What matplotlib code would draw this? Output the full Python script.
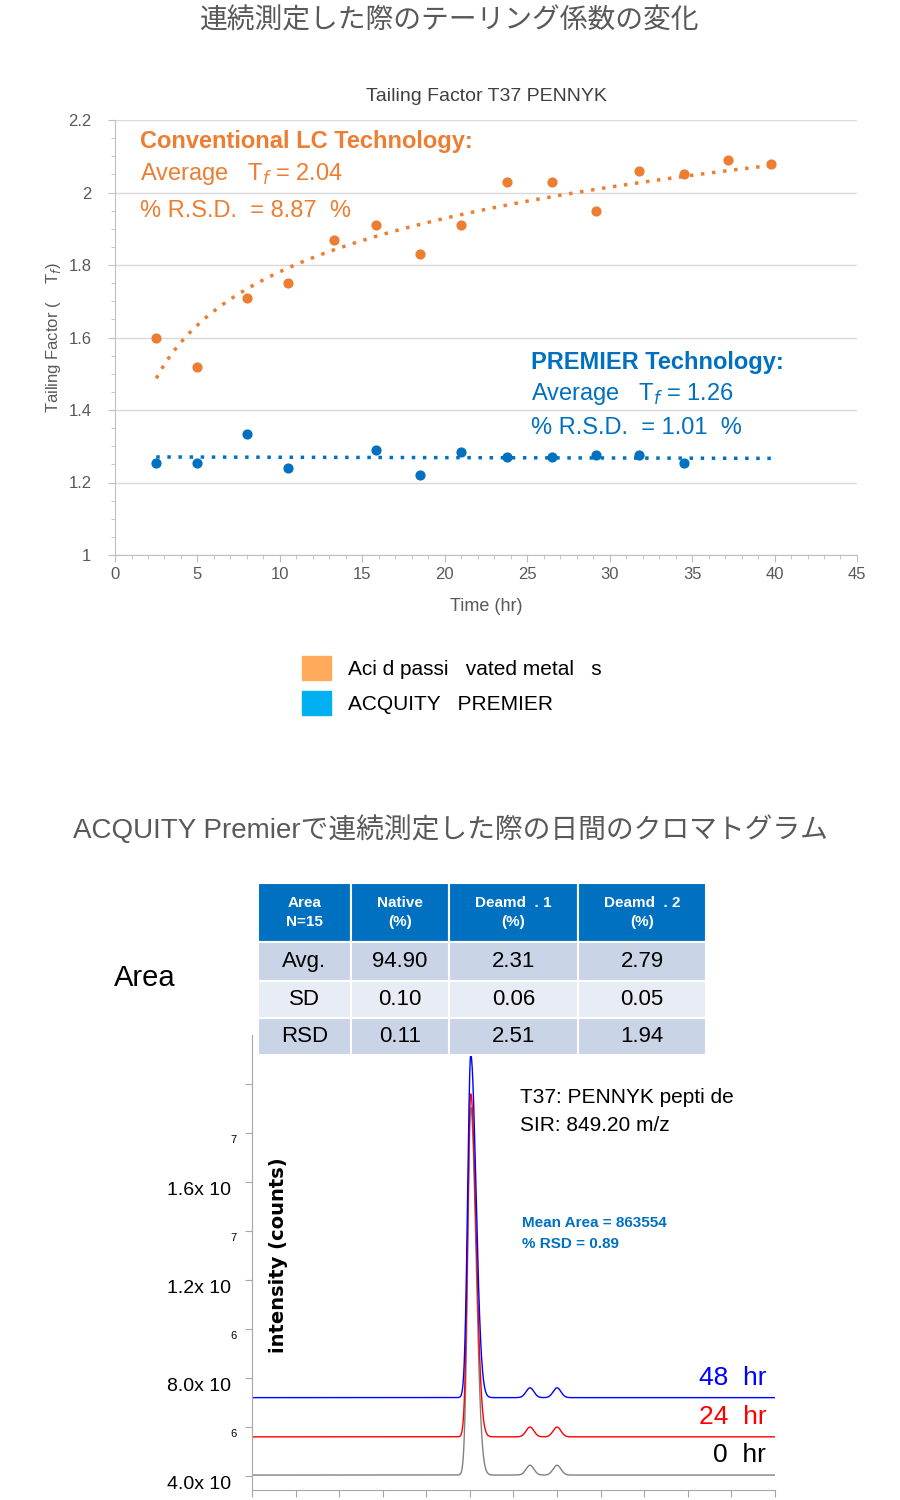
import numpy as np
import matplotlib.pyplot as plt
from matplotlib.patches import Rectangle

plt.rcParams["font.family"] = ["Liberation Sans", "Noto Sans CJK JP"]

# Tailing factor data
conv_time = [2.5, 5, 8, 10.5, 13.3, 15.8, 18.5, 21, 23.8, 26.5, 29.2, 31.8, 34.5, 37.2, 39.8]
conv_tf = [1.60, 1.52, 1.71, 1.75, 1.87, 1.91, 1.83, 1.91, 2.03, 2.03, 1.95, 2.06, 2.05, 2.09, 2.08]
prem_time = [2.5, 5, 8, 10.5, 15.8, 18.5, 21, 23.8, 26.5, 29.2, 31.8, 34.5]
prem_tf = [1.255, 1.255, 1.335, 1.24, 1.29, 1.22, 1.285, 1.27, 1.27, 1.275, 1.275, 1.255]

# Table
col_heads = ["Area\nN=15", "Native\n(%)", "Deamd  . 1\n(%)", "Deamd  . 2\n(%)"]
row_names = ["Avg.", "SD", "RSD"]
native = ["94.90", "0.10", "0.11"]
deamd1 = ["2.31", "0.06", "2.51"]
deamd2 = ["2.79", "0.05", "1.94"]

# Chromatogram: peak centre, height, width, baseline per run
runs = ["0 hr", "24 hr", "48 hr"]
run_colors = ["#808080", "#ff0000", "#0000ff"]
baselines = [4.04e6, 5.6e6, 7.2e6]
main_heights = [1.50e7, 1.40e7, 1.40e7]
peak_pos = [5.02, 6.38, 7.0]
minor_heights = [4.0e5, 4.0e5, 4.0e5]

fig = plt.figure(figsize=(9, 15), dpi=100)
gray = "#595959"
orange = "#ED7D31"
blue = "#0070C0"

fig.text(0.5, 0.986, "連続測定した際のテーリング係数の変化", ha="center", va="center", fontsize=20, color=gray)
fig.text(0.5, 0.447, "ACQUITY Premierで連続測定した際の日間のクロマトグラム", ha="center", va="center", fontsize=20, color=gray)

# ---- top chart
ax = fig.add_axes([0.1278, 0.63, 0.8244, 0.29])
ax.scatter(conv_time, conv_tf, color=orange, s=40, zorder=3)
ax.scatter(prem_time, prem_tf, color=blue, s=40, zorder=3)
# trend lines fitted from data
a, b = np.polyfit(np.log(conv_time), conv_tf, 1)
xx = np.linspace(2.5, 39.8, 200)
ax.plot(xx, a * np.log(xx) + b, color=orange, ls=(0, (1, 2.2)), lw=2.5)
c, d = np.polyfit(prem_time, prem_tf, 1)
ax.plot(xx, c * xx + d, color=blue, ls=(0, (1, 2.2)), lw=2.5)
ax.set_xlim(0, 45)
ax.set_ylim(1, 2.2)
ax.set_xticks(range(0, 46, 5))
ax.set_yticks([1, 1.2, 1.4, 1.6, 1.8, 2, 2.2])
ax.set_yticklabels(["1", "1.2", "1.4", "1.6", "1.8", "2", "2.2"])
ax.set_xticks(np.arange(0, 45.1, 1), minor=True)
ax.set_yticks(np.arange(1, 2.21, 0.05), minor=True)
ax.grid(axis="y", color="#d9d9d9", lw=1)
ax.set_axisbelow(True)
for s in ["top", "right"]:
    ax.spines[s].set_visible(False)
for s in ["left", "bottom"]:
    ax.spines[s].set_color("#bfbfbf")
ax.tick_params(colors=gray, labelsize=12, length=5, color="#bfbfbf")
ax.tick_params(axis="y", pad=12)
ax.tick_params(which="minor", length=3, color="#bfbfbf")
ax.set_xlabel("Time (hr)", color=gray, fontsize=13, labelpad=12)
ax.set_ylabel("Tailing Factor (    T$_f$)", color=gray, fontsize=12)
ax.set_title("Tailing Factor T37 PENNYK", color="#404040", fontsize=14, pad=14)
ax.text(1.5, 2.14, "Conventional LC Technology:", color=orange, fontsize=17, fontweight="bold", va="center")
ax.text(1.5, 2.05, "Average   T$_f$ = 2.04", color=orange, fontsize=17, va="center")
ax.text(1.5, 1.95, "% R.S.D.  = 8.87  %", color=orange, fontsize=17, va="center")
ax.text(25.2, 1.53, "PREMIER Technology:", color=blue, fontsize=17, fontweight="bold", va="center")
ax.text(25.2, 1.445, "Average   T$_f$ = 1.26", color=blue, fontsize=17, va="center")
ax.text(25.2, 1.35, "% R.S.D.  = 1.01  %", color=blue, fontsize=17, va="center")

fig.legend(handles=[Rectangle((0, 0), 1, 1, color="#FFAB5B"), Rectangle((0, 0), 1, 1, color="#00B0F0")],
           labels=["Aci d passi   vated metal   s", "ACQUITY   PREMIER"],
           loc="center left", bbox_to_anchor=(0.315, 0.543), frameon=False, fontsize=15,
           handlelength=1.4, handleheight=1.4, labelspacing=0.5)

# ---- table
xs = [258, 351, 449, 578, 706]
ys = [883, 942, 981, 1018, 1055]
W, H = 900, 1500
def cell(x0, x1, y0, y1, fc, txt, tc, fs, bold=False):
    fig.patches.append(Rectangle((x0 / W, 1 - y1 / H), (x1 - x0) / W, (y1 - y0) / H,
                                 transform=fig.transFigure, fc=fc, ec="white", lw=1.5))
    fig.text((x0 + x1) / 2 / W, 1 - (y0 + y1) / 2 / H, txt, ha="center", va="center",
             color=tc, fontsize=fs, fontweight="bold" if bold else "normal", linespacing=1.4)
for j in range(4):
    cell(xs[j], xs[j + 1], ys[0], ys[1], "#0070C0", col_heads[j], "white", 11, True)
for i in range(3):
    fc = "#C9D4E6" if i != 1 else "#E8ECF4"
    vals = [row_names[i], native[i], deamd1[i], deamd2[i]]
    for j in range(4):
        cell(xs[j], xs[j + 1], ys[i + 1], ys[i + 2], fc, vals[j], "black", 16)
fig.text(145 / W, 1 - 978 / H, "Area", ha="center", va="center", fontsize=21)

# ---- chromatogram
ax2 = fig.add_axes([0.28, 0.00667, 0.581, 0.3033])
t = np.linspace(0, 12, 3000)
for k in range(3):
    y = np.full_like(t, baselines[k])
    left = np.exp(-0.5 * ((t - peak_pos[0]) / 0.07) ** 2)
    right = np.exp(-0.5 * ((t - peak_pos[0]) / 0.12) ** 2)
    y += main_heights[k] * np.where(t < peak_pos[0], left, right)
    for p in (1, 2):
        y += minor_heights[k] * np.exp(-0.5 * ((t - peak_pos[p]) / 0.09) ** 2)
    ax2.plot(t, y, color=run_colors[k], lw=1)
ax2.set_xlim(0, 12)
ax2.set_ylim(3.43e6, 2.2e7)
ax2.set_xticks(np.arange(0, 12.1, 1))
ax2.set_xticklabels([])
ax2.set_yticks(np.arange(4e6, 2.2e7, 2e6))
ax2.set_yticklabels([])
for s in ["top", "right"]:
    ax2.spines[s].set_visible(False)
for s in ["left", "bottom"]:
    ax2.spines[s].set_color("#a6a6a6")
ax2.tick_params(color="#a6a6a6", length=5)
tr = ax2.get_yaxis_transform()
for v, lab in [(4e6, "4.0x 10"), (8e6, "8.0x 10"), (1.2e7, "1.2x 10"), (1.6e7, "1.6x 10")]:
    ax2.text(-0.04, v - 3.5e5, lab, transform=tr, ha="right", va="center", fontsize=14)
    ax2.text(-0.03, v + 1.7e6, "6" if v < 1e7 else "7", transform=tr, ha="right", va="center", fontsize=8)
ax2.text(0.6, 1.3e7, "intensity (counts)", rotation=90, ha="center", va="center",
         fontsize=14, fontweight="bold", family="DejaVu Sans")
ax2.text(6.15, 1.886e7, "T37: PENNYK pepti de\nSIR: 849.20 m/z", fontsize=15, va="center", linespacing=1.6)
ax2.text(6.2, 1.39e7, "Mean Area = 863554\n% RSD = 0.89", fontsize=11, va="center", color=blue,
         fontweight="bold", linespacing=1.6)
for k in range(3):
    ax2.text(11.8, baselines[k] + 8e5, runs[k].replace(" ", "  "), ha="right", va="center",
             fontsize=19, color=run_colors[k] if k else "black")

fig.savefig("out.png", dpi=100)
